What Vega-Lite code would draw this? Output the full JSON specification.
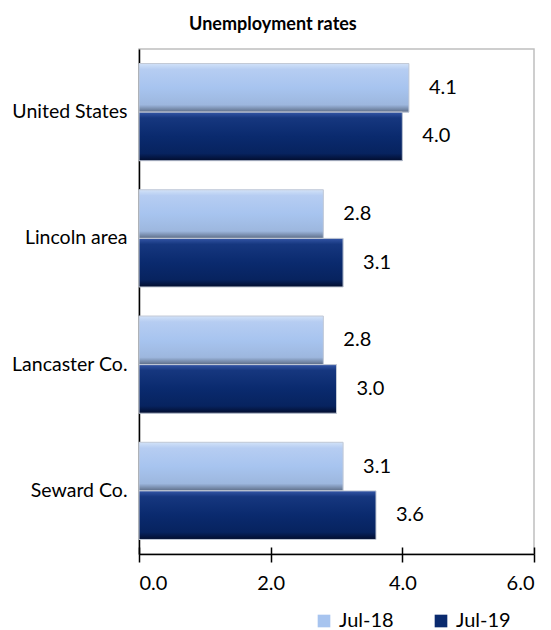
{
  "$schema": "https://vega.github.io/schema/vega-lite/v6.json",
  "width": 395,
  "height": 505,
  "autosize": {"type": "none"},
  "padding": {"left": 139, "top": 49, "right": 17, "bottom": 76},
  "title": {"text": "Unemployment rates", "font": "Lato", "fontSize": 18, "fontWeight": "bold", "color": "#000000", "anchor": "middle", "frame": "bounds", "offset": 15},
  "config": {
    "font": "Lato",
    "view": {"stroke": "#bfbfbf", "strokeWidth": 1.5},
    "axis": {"grid": false, "domainColor": "#000000", "domainWidth": 1.5, "tickColor": "#000000", "tickWidth": 1.5, "labelColor": "#000000", "labelFont": "Lato", "labelFontSize": 20, "title": null}
  },
  "data": {"values": [
    {"area": "United States", "series": "Jul-18", "rate": 4.1},
    {"area": "United States", "series": "Jul-19", "rate": 4.0},
    {"area": "Lincoln area", "series": "Jul-18", "rate": 2.8},
    {"area": "Lincoln area", "series": "Jul-19", "rate": 3.1},
    {"area": "Lancaster Co.", "series": "Jul-18", "rate": 2.8},
    {"area": "Lancaster Co.", "series": "Jul-19", "rate": 3.0},
    {"area": "Seward Co.", "series": "Jul-18", "rate": 3.1},
    {"area": "Seward Co.", "series": "Jul-19", "rate": 3.6}
  ]},
  "encoding": {
    "y": {"field": "area", "type": "nominal", "sort": ["United States", "Lincoln area", "Lancaster Co.", "Seward Co."],
      "scale": {"paddingInner": 0.23, "paddingOuter": 0.115},
      "axis": {"ticks": false, "labelPadding": 12, "labelFontSize": 19.5}},
    "yOffset": {"field": "series", "type": "nominal", "scale": {"domain": ["Jul-18", "Jul-19"], "paddingInner": 0, "paddingOuter": 0}}
  },
  "resolve": {"axis": {"x": "independent"}},
  "layer": [
    {
      "mark": {"type": "bar"},
      "encoding": {
        "x": {"field": "rate", "type": "quantitative", "scale": {"domain": [0, 6], "nice": false},
          "axis": {"orient": "bottom", "values": [0, 2, 4, 6], "format": ".1f", "tickSize": 8, "labelPadding": 11, "labelFontSize": 20}},
        "color": {"field": "series", "type": "nominal",
          "scale": {"domain": ["Jul-18", "Jul-19"], "range": ["#a7c4ef", "#0a2a6e"]},
          "legend": {"orient": "none", "legendX": 175, "legendY": 562, "direction": "horizontal", "title": null,
            "symbolType": "square", "symbolSize": 160, "symbolStrokeWidth": 0, "labelFontSize": 20, "labelFont": "Lato", "labelColor": "#000000",
            "columnPadding": 37, "labelOffset": 5}}
      }
    },
    {
      "mark": {"type": "bar", "stroke": "#c3cad6", "strokeWidth": 1},
      "encoding": {
        "x": {"field": "rate", "type": "quantitative", "scale": {"domain": [0, 6], "nice": false}, "axis": null},
        "color": {
          "condition": {"test": "datum.series === 'Jul-18'", "value": {"gradient": "linear", "x1": 0, "y1": 0, "x2": 0, "y2": 1,
            "stops": [{"offset": 0, "color": "#d2e2f8"}, {"offset": 0.12, "color": "#b6cdf2"}, {"offset": 0.5, "color": "#a7c4ef"}, {"offset": 0.85, "color": "#9db7de"}, {"offset": 1, "color": "#5c6c86"}]}},
          "value": {"gradient": "linear", "x1": 0, "y1": 0, "x2": 0, "y2": 1,
            "stops": [{"offset": 0, "color": "#3456a6"}, {"offset": 0.12, "color": "#16377f"}, {"offset": 0.5, "color": "#0a2a6e"}, {"offset": 0.85, "color": "#07235f"}, {"offset": 1, "color": "#020d2e"}]}
        }
      }
    },
    {
      "mark": {"type": "text", "align": "left", "baseline": "middle", "dx": 20, "fontSize": 20, "font": "Lato", "color": "#000000"},
      "encoding": {
        "x": {"field": "rate", "type": "quantitative", "scale": {"domain": [0, 6], "nice": false},
          "axis": {"orient": "bottom", "values": [0, 2, 4, 6], "tickSize": -7, "labels": false, "domain": false}},
        "text": {"field": "rate", "type": "quantitative", "format": ".1f"}
      }
    }
  ]
}
